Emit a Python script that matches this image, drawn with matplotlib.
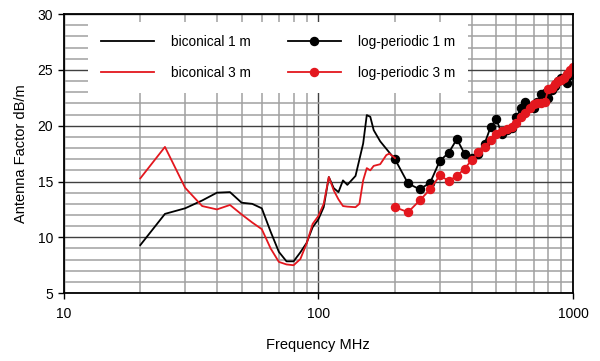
import numpy as np
import matplotlib
matplotlib.use("Agg")
import matplotlib.pyplot as plt
from matplotlib.ticker import FixedLocator, MultipleLocator, NullFormatter

plt.rcParams['font.family'] = ['Liberation Sans', 'DejaVu Sans']

# Biconical antenna, 1 m and 3 m
bic_f1 = [20, 25, 30, 35, 40, 45, 50, 55, 60, 65, 70, 75, 80, 85, 90, 95, 100,
          105, 110, 115, 120, 125, 130, 140, 150, 155, 160, 165, 175, 190, 200]
bic_1m = [9.3, 12.1, 12.6, 13.3, 14.0, 14.05, 13.1, 13.0, 12.6, 10.5, 8.7, 7.85,
          7.85, 8.65, 9.5, 10.9, 11.6, 12.7, 15.4, 14.4, 14.05, 15.1, 14.7, 15.5,
          18.4, 20.95, 20.8, 19.6, 18.6, 17.6, 17.0]

bic_f3 = [20, 25, 30, 35, 40, 45, 50, 55, 60, 65, 70, 75, 80, 85, 90, 95, 100,
          105, 110, 115, 120, 125, 130, 140, 145, 150, 155, 160, 165, 175, 185,
          190, 200]
bic_3m = [15.28, 18.1, 14.44, 12.8, 12.5, 12.9, 12.05, 11.33, 10.73, 9.0, 7.8,
          7.57, 7.5, 8.05, 9.45, 11.2, 11.9, 13.0, 15.4, 14.2, 13.4, 12.8, 12.75,
          12.7, 13.0, 15.1, 16.2, 16.0, 16.4, 16.55, 17.37, 17.5, 17.1]

# Log-periodic antenna, 1 m and 3 m
lp_f = [200, 225, 250, 275, 300, 325, 350, 375, 400, 425, 450, 475, 500, 525,
        550, 575, 600, 625, 650, 675, 700, 725, 750, 775, 800, 825, 850, 875,
        900, 925, 950, 975, 1000]
lp_1m = [17.0, 14.83, 14.3, 14.9, 16.85, 17.57, 18.8, 17.5, 17.15, 17.5, 18.4,
         19.9, 20.56, 19.3, 19.6, 19.8, 20.74, 21.55, 22.1, 21.65, 21.6, 22.1,
         22.8, 22.95, 22.5, 23.2, 23.6, 24.0, 24.25, 24.1, 23.8, 24.5, 25.1]
lp_3m = [12.7, 12.25, 13.3, 14.3, 15.55, 15.05, 15.5, 16.15, 16.9, 17.6, 18.1,
         18.75, 19.3, 19.5, 19.7, 19.9, 20.2, 20.75, 21.1, 21.6, 21.9, 22.0,
         22.05, 22.1, 23.3, 23.4, 23.7, 24.0, 24.1, 24.3, 24.6, 25.0, 25.25]

red = '#e3171e'

fig = plt.figure(figsize=(6, 3.61), dpi=100)
ax = fig.add_axes([0.106, 0.188, 0.849, 0.773])

ax.plot(bic_f1, bic_1m, color='black', lw=1.3, label='biconical 1 m')
ax.plot(lp_f, lp_1m, color='black', lw=1.3, marker='o', ms=5.8, label='log-periodic 1 m')
ax.plot(bic_f3, bic_3m, color=red, lw=1.3, label='biconical 3 m')
ax.plot(lp_f, lp_3m, color=red, lw=1.3, marker='o', ms=5.8, label='log-periodic 3 m')

ax.set_xscale('log')
ax.set_xlim(10, 1000)
ax.set_ylim(5, 30)

ax.xaxis.set_major_locator(FixedLocator([10, 100, 1000]))
ax.xaxis.set_major_formatter(matplotlib.ticker.FixedFormatter(['10', '100', '1000']))
minors = [m * d for d in (10, 100) for m in range(2, 10)]
ax.xaxis.set_minor_locator(FixedLocator(minors))
ax.xaxis.set_minor_formatter(NullFormatter())
ax.yaxis.set_major_locator(MultipleLocator(5))
ax.yaxis.set_minor_locator(MultipleLocator(1))

ax.grid(True, which='major', color='#404040', lw=1.0)
ax.grid(True, which='minor', color='#a0a0a0', lw=1.1)
ax.set_axisbelow(True)

ax.tick_params(which='major', direction='out', length=4, width=1, labelsize=10, colors='black')
ax.tick_params(axis='x', which='major', pad=6)
ax.tick_params(which='minor', length=0)
for s in ax.spines.values():
    s.set_linewidth(1.3)
    s.set_color('black')

ax.set_xlabel('Frequency MHz', fontsize=10.5, labelpad=12)
ax.set_ylabel('Antenna Factor dB/m', fontsize=10.5, labelpad=7)

handles, labels = ax.get_legend_handles_labels()
order = [0, 2, 1, 3]
leg = ax.legend([handles[i] for i in order], [labels[i] for i in order],
                ncol=2, loc='upper left', bbox_to_anchor=(0.048, 0.971),
                borderaxespad=0, frameon=True, fancybox=False, fontsize=9.8,
                handlelength=3.9, handletextpad=1.25, columnspacing=2.7,
                labelspacing=1.25, borderpad=0.95)
leg.get_frame().set_facecolor('white')
leg.get_frame().set_edgecolor('none')
leg.get_frame().set_alpha(1)

fig.savefig('out.png', dpi=100)
